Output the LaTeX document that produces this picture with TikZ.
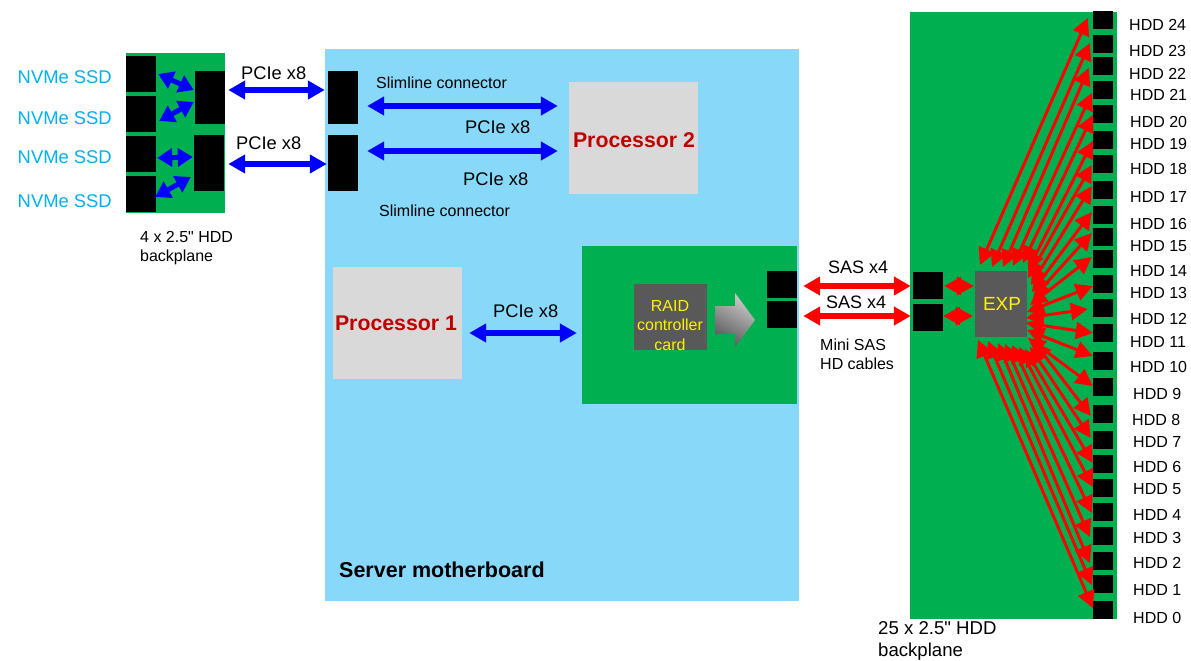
\documentclass[tikz,border=0pt]{standalone}
\usepackage{fontspec}
\setmainfont{Liberation Sans}[Ligatures=TeXOff]
\usetikzlibrary{arrows.meta,calc}
\definecolor{boardgreen}{HTML}{00B050}
\definecolor{mbblue}{HTML}{87D8F9}
\definecolor{chipgray}{HTML}{595959}
\definecolor{cpugray}{HTML}{D9D9D9}
\definecolor{ssdblue}{HTML}{00B0F0}
\definecolor{cpured}{HTML}{C00000}
\tikzset{
    fnt/.style={font=\fontsize{#1}{18.5}\selectfont},
    txt/.style={inner sep=0pt,anchor=west,align=left,fnt=#1},
    slot/.style={fill=black,inner sep=0pt,minimum width=30},
    hddslot/.style={fill=black,inner sep=0pt,minimum width=20,minimum height=18},
    chip/.style={fill=chipgray,inner sep=0pt,text=yellow,align=center},
    cpu/.style={fill=cpugray,inner sep=0pt,minimum width=129,minimum height=112},
    cpulabel/.style={inner sep=0pt,text=cpured,font=\fontsize{21.3}{24}\selectfont\bfseries},
    bluelink/.style={draw=blue,line width=5.5pt,{Triangle[length=17pt,width=18pt]}-{Triangle[length=17pt,width=18pt]}},
    smalllink/.style={draw=blue,line width=5pt,{Triangle[length=15pt,width=18pt]}-{Triangle[length=15pt,width=18pt]}},
    redlink/.style={draw=red,line width=5.5pt,{Triangle[length=17pt,width=18pt]}-{Triangle[length=17pt,width=18pt]}},
    hddlink/.style={draw=red,line width=3pt,{Triangle[length=17pt,width=17pt]}-{Triangle[length=17pt,width=17pt]}},
}
\begin{document}
\begin{tikzpicture}[x=1pt,y=-1pt]
    \useasboundingbox (0,0) rectangle (1191,661);
    % boards
    \fill[mbblue] (325,49) rectangle (799,601);
    \fill[boardgreen] (126,53) rectangle (225,213);
    \fill[boardgreen] (582,246) rectangle (797,404);
    \fill[boardgreen] (910,12) rectangle (1117,619);
    % small backplane
    \foreach \i/\y/\ly in {1/74/77,2/114/118,3/154/157,4/194/201}{
        \node[slot,minimum height=36] (ssd\i) at (141,\y) {};
        \node[txt=18.4,text=ssdblue,anchor=east] (ssdlabel\i) at (112,\ly) {NVMe SSD};
    }
    \node[slot,minimum height=53] (bpa) at (210,97.5) {};
    \node[slot,minimum height=56] (bpb) at (209,163) {};
    \node[slot,minimum height=53] (mba) at (343,97.5) {};
    \node[slot,minimum height=56] (mbb) at (343,163) {};
    \draw[smalllink] ($(ssd1.east)+(2,0)$) -- ($(bpa.west)+(-1,-7.5)$);
    \draw[smalllink] ($(ssd2.east)+(3,7)$) -- ($(bpa.west)+(-1,4.5)$);
    \draw[smalllink] ($(ssd3.east)+(1,4)$) -- ($(bpb.west)+(-1,-6)$);
    \draw[smalllink] ($(ssd4.east)+(-1,3)$) -- ($(bpb.west)+(-3,14)$);
    \draw[bluelink] ($(bpa.east)+(3,-7.5)$) -- ($(mba.west)+(-3,-7.5)$);
    \draw[bluelink] ($(bpb.east)+(4,1)$) -- ($(mbb.west)+(-1,1)$);
    \node[txt=18.3] (pciea) at (241,73) {PCIe x8};
    \node[txt=18.3] (pcieb) at (236,143) {PCIe x8};
    \node[txt=16] (bplabel) at (140,248) {4 x 2.5" HDD\\backplane};
    % motherboard
    \node[cpu] (cpub) at (633.5,138) {};
    \node[cpu] (cpua) at (397.5,323) {};
    \node[cpulabel] (cpublabel) at (634,140) {Processor 2};
    \node[cpulabel] (cpualabel) at (396,323) {Processor 1};
    \draw[bluelink] ($(mba.east)+(9,8.5)$) -- ($(cpub.west)+(-11,-32)$);
    \draw[bluelink] ($(mbb.east)+(9,-12)$) -- ($(cpub.west)+(-11,13)$);
    \node[txt=16] (slima) at (376,83) {Slimline connector};
    \node[txt=16] (slimb) at (379,211) {Slimline connector};
    \node[txt=18.3] (pciec) at (465,127) {PCIe x8};
    \node[txt=18.3] (pcied) at (463,179) {PCIe x8};
    \node[txt=18.3] (pciee) at (493,311) {PCIe x8};
    \node[txt=21.5,font=\fontsize{21.5}{25}\selectfont\bfseries] (mblabel) at (339,570) {Server motherboard};
    % raid card
    \node[chip,minimum width=73,minimum height=66] (raid) at (670.5,317) {};
    \node[inner sep=0pt,text=yellow,fnt=16] (raidlabela) at (670,306) {RAID};
    \node[inner sep=0pt,text=yellow,fnt=16] (raidlabelb) at (670,325) {controller};
    \node[inner sep=0pt,text=yellow,fnt=16] (raidlabelc) at (670,345) {card};
    \shade[left color=black!20,right color=black!65,shading angle=-30]
        (715,306) -- (735,306) -- (735,293) -- (755,320) -- (735,347) -- (735,334) -- (715,334) -- cycle;
    \draw[bluelink] ($(cpua.east)+(7,10)$) -- ($(raid.west)+(-57,16)$);
    \node[slot,minimum height=27] (carda) at (782,284.5) {};
    \node[slot,minimum height=27] (cardb) at (782,314.5) {};
    \node[slot,minimum height=27] (sasa) at (928,285.5) {};
    \node[slot,minimum height=27] (sasb) at (928,317.5) {};
    \draw[redlink] ($(carda.east)+(6,1.5)$) -- ($(sasa.west)+(-2,.5)$);
    \draw[redlink] ($(cardb.east)+(6,1.5)$) -- ($(sasb.west)+(-2,-1.5)$);
    \node[txt=18] (sasla) at (828,267) {SAS x4};
    \node[txt=18] (saslb) at (826,302) {SAS x4};
    \node[txt=16] (cablelabel) at (820,354.5) {Mini SAS\\HD cables};
    % big backplane
    \node[chip,minimum width=52,minimum height=66,fnt=19] (exp) at (1001,304) {\hspace{2pt}EXP};
    \draw[redlink,line width=3pt] ($(sasa.east)+(1,.5)$) -- ($(exp.west)+(-1,-18)$);
    \draw[redlink,line width=3pt] ($(sasb.east)+(0,-1.5)$) -- ($(exp.west)+(-2,12)$);
    \foreach \i/\y/\lx/\ly in {24/20/1129/25,23/44/1129/51,22/66/1129/74,21/90/1130/95,20/114/1130/122,
        19/140/1130/144,18/164/1130/169,17/190/1130/197,16/215/1130/224,15/237/1130/246,14/259/1130/271,
        13/284/1130/293,12/308/1130/319,11/333/1130/342,10/361/1130/367,9/387/1133/394,8/414/1132/420,
        7/440/1133/442,6/464/1133/467,5/488/1133/489,4/512/1133/515,3/536/1133/538,2/561/1133/563,
        1/584/1133/590,0/610/1133/618}{
        \node[hddslot] (hdd\i) at (1103,\y) {};
        \node[txt=16] (hddlabel\i) at (\lx,\ly) {HDD \i};
    }
    % expander links, start point and offset from the slot
    \foreach \i/\sx/\sy/\dx/\dy in {24/980/265/-5/-2,23/992/267/-3/-1,22/1003/267/-4/2,21/1013/266/-1/3,
        20/1023/263/0/1,19/1028/270/0/1,18/1028/278/-1/1,17/1031/285/-1/-4,16/1032/292/-1/-3,
        15/1033/298/-1/-4,14/1030/305/-1/-2,13/1027/312/0/2,12/1026/318/-5/1,11/1026/323/0/0,
        10/1027/330/0/-5,9/1028/338/0/-1,8/1034/342/-2/2,7/1030/347/-2/-2,6/1025/349/0/-1,
        5/1019/347/0/-1,4/1012/345/-1/1,3/1005/344/-3/1,2/998/343/-3/2,1/988/341/-1/1,0/978/340/0/-2}{
        \coordinate (expend\i) at (\sx,\sy);
        \draw[hddlink] (expend\i) -- ($(hdd\i.west)+(\dx,\dy)$);
    }
    \node[txt=18.6] (hddbplabel) at (878,641) {25 x 2.5" HDD\\[3.5pt]backplane};
\end{tikzpicture}
\end{document}
